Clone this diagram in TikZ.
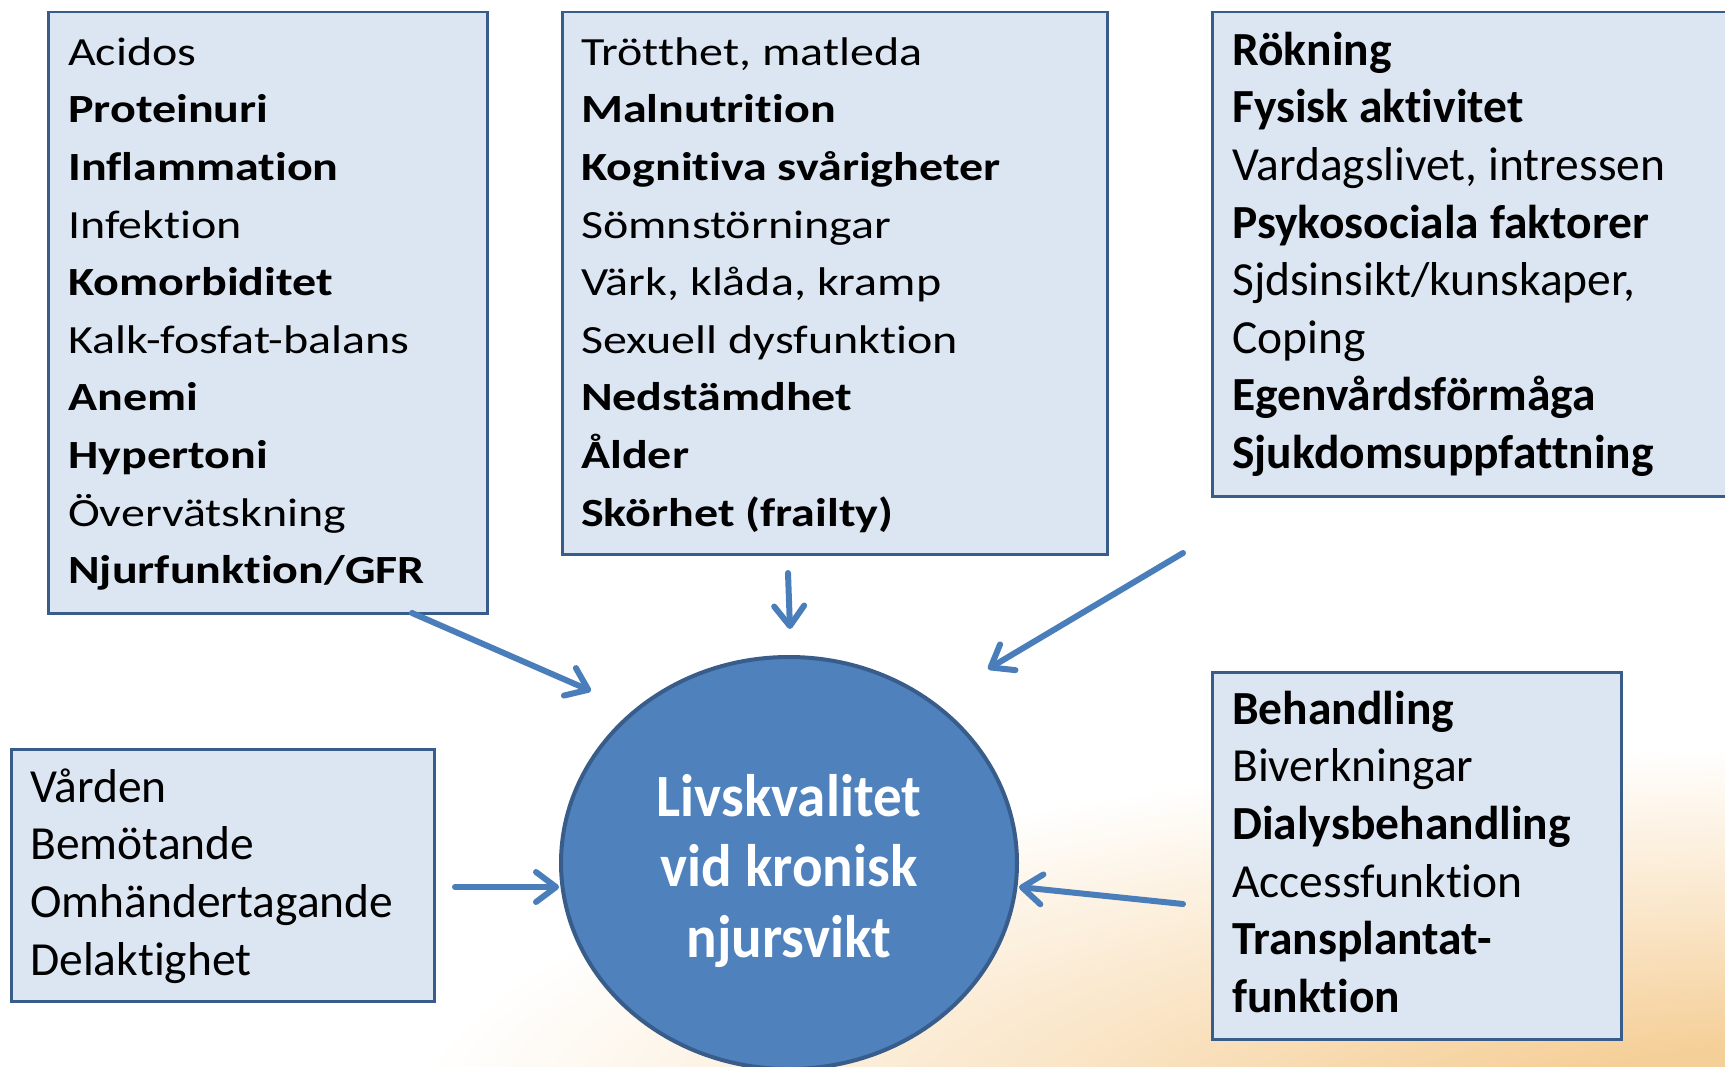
\documentclass[tikz,border=0pt]{standalone}
\usepackage{fontspec}
\setmainfont{Carlito}[Ligatures=NoCommon]
\newfontfamily\widefont{Carlito}[FakeStretch=1.2,Ligatures=NoCommon]
\newfontfamily\ctrfont{Carlito}[FakeStretch=0.95,Ligatures=NoCommon]
\newcommand{\tiq}{t\kern0pt i}
\usetikzlibrary{arrows.meta,shapes.geometric}
\definecolor{boxfill}{HTML}{DCE6F2}
\definecolor{boxline}{HTML}{385D8A}
\definecolor{circfill}{HTML}{4F81BD}
\definecolor{arrowblue}{HTML}{4A7EBB}
\definecolor{peach}{HTML}{F5CF98}
\definecolor{peachmid}{HTML}{FAE6C9}
\pgfdeclareradialshading{glow}{\pgfpoint{0bp}{0bp}}{color(0bp)=(peach); color(3bp)=(peach); color(8bp)=(peachmid); color(14bp)=(white); color(50bp)=(white)}
\begin{document}
\begin{tikzpicture}[x=1pt,y=-1pt,
  fbox/.style={draw=boxline,fill=boxfill,line width=2.5pt,inner sep=0pt,anchor=north west},
  widetxt/.style={inner sep=0pt,anchor=north west,align=left,font=\widefont\fontsize{40}{57.6}\selectfont},
  normtxt/.style={inner sep=0pt,anchor=north west,align=left,font=\fontsize{47.5}{57.6}\selectfont},
  conn/.style={draw=arrowblue,line width=6pt,line cap=round,-{Straight Barb[length=20pt,width=30pt,round]}}]
\useasboundingbox (0,0) rectangle (1725,1067);
\clip (0,0) rectangle (1725,1067);
\fill[white] (0,0) rectangle (1725,1067);
\shade[shading=glow] (1805,1127) ellipse [x radius=2500pt, y radius=680pt];

% boxes
\node[fbox,minimum width=439pt,minimum height=601pt] (b1) at (47,11) {};
\node[fbox,minimum width=545pt,minimum height=542pt] (b2) at (561,11) {};
\node[fbox,minimum width=534pt,minimum height=484pt] (b3) at (1211,11) {};
\node[fbox,minimum width=423pt,minimum height=252pt] (b4) at (10,748) {};
\node[fbox,minimum width=409pt,minimum height=367pt] (b5) at (1211,671) {};

% texts
\node[widetxt] (t1) at (68,24.7) {\strut Acidos\\\textbf{Proteinuri}\\\textbf{Inflamma\tiq on}\\Infek\tiq on\\\textbf{Komorbiditet}\\Kalk-fosfat-balans\\\textbf{Anemi}\\\textbf{Hypertoni}\\Övervätskning\\\textbf{Njurfunk\tiq on/GFR}};
\node[widetxt] (t2) at (581,24.7) {\strut Trötthet, matleda\\\textbf{Malnutri\tiq on}\\\textbf{Kogni\tiq va svårigheter}\\Sömnstörningar\\Värk, klåda, kramp\\Sexuell dysfunk\tiq on\\\textbf{Nedstämdhet}\\\textbf{Ålder}\\\textbf{Skörhet (frailty)}};
\node[normtxt] (t3) at (1232,24.7) {\strut\textbf{Rökning}\\\textbf{Fysisk ak\tiq vitet}\\Vardagslivet, intressen\\\textbf{Psykosociala faktorer}\\Sjdsinsikt/kunskaper,\\Coping\\\textbf{Egenvårdsförmåga}\\\textbf{Sjukdomsuppfattning}};
\node[normtxt] (t4) at (30,761.7) {\strut Vården\\Bemötande\\Omhändertagande\\Delaktighet};
\node[normtxt] (t5) at (1232,683.7) {\strut\textbf{Behandling}\\Biverkningar\\\textbf{Dialysbehandling}\\Accessfunk\tiq on\\\textbf{Transplantat-}\\\textbf{funk\tiq on}};

% central ellipse
\node[ellipse,draw=boxline,fill=circfill,line width=4pt,minimum width=456pt,minimum height=412pt,inner sep=0pt] (c) at (789,863) {};
\node[inner sep=0pt,anchor=north,align=center,text=white,font=\ctrfont\bfseries\fontsize{60}{70.5}\selectfont] (ct) at (789,766.6) {\strut Livskvalitet\\vid kronisk\\njursvikt};

% connectors
\coordinate (a1s) at (412,613);
\coordinate (a1e) at (591,691);
\coordinate (a2s) at (788,573);
\coordinate (a2e) at (790,629);
\coordinate (a3s) at (1183,553);
\coordinate (a3e) at (988,669);
\coordinate (a4s) at (455,887);
\coordinate (a4e) at (559,887);
\coordinate (a5s) at (1183,904);
\coordinate (a5e) at (1019,887);
\draw[conn] (a1s) -- (a1e);
\draw[conn] (a2s) -- (a2e);
\draw[conn] (a3s) -- (a3e);
\draw[conn] (a4s) -- (a4e);
\draw[conn] (a5s) -- (a5e);
\end{tikzpicture}
\end{document}
